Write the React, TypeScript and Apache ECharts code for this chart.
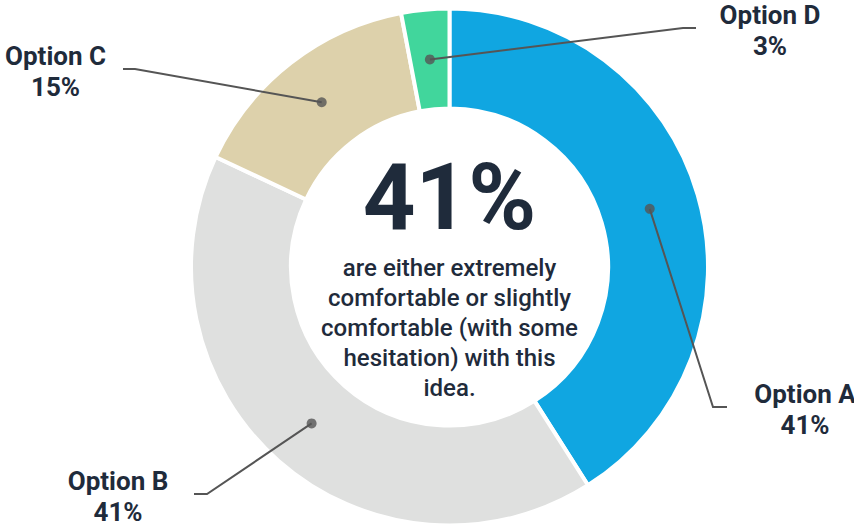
import React, { useEffect, useRef } from "react";
import * as echarts from "echarts";

const categories = ["Option A", "Option B", "Option C", "Option D"];
const values = [41, 41, 15, 3];
const centerValue = "41%";
const centerNote = "are either extremely\ncomfortable or slightly\ncomfortable (with some\nhesitation) with this\nidea.";

const PALETTE = ["#10A6E1", "#DFE0DF", "#DDD1AB", "#41D69C"];
const TEXT = "#1F2B3B";
const LINE = "#555555";
const CX = 449.5;
const CY = 267;
const BORDER = 4;
const OUTER = 256.5;
const INNER = 160.5;
const MID = (OUTER + INNER) / 2;

// label layout (positions of label blocks and line elbows)
const LABEL_LAYOUT = [
  { x: 805, y: 409, elbow: [713, 407], end: [727, 407] },
  { x: 118, y: 496, elbow: [207, 494], end: [194, 494] },
  { x: 55.5, y: 71.5, elbow: [135, 69], end: [123, 69] },
  { x: 770, y: 30.5, elbow: [683, 28], end: [696, 28] },
];

export default function App() {
  const ref = useRef<HTMLDivElement>(null);
  useEffect(() => {
    document.body.style.margin = "0";
    if (!ref.current) return;
    const chart = echarts.init(ref.current, null, { renderer: "svg" });
    const total = values.reduce((a, b) => a + b, 0);
    const mids: number[] = [];
    let cum = 0;
    values.forEach((v) => {
      mids.push(cum + v / 2);
      cum += v;
    });
    const data = categories.map((name, i) => ({ name, value: values[i] }));
    chart.setOption({
      animation: false,
      polar: { center: [CX, CY], radius: OUTER },
      angleAxis: {
        type: "value",
        min: 0,
        max: total,
        startAngle: 90,
        clockwise: true,
        show: false,
      },
      radiusAxis: { type: "value", min: 0, max: OUTER, show: false },
      graphic: [
        {
          type: "text",
          x: CX,
          y: 197,
          style: {
            text: centerValue,
            align: "center",
            verticalAlign: "middle",
            fontFamily: "Roboto",
            fontWeight: "bold",
            fontSize: 92,
            fill: TEXT,
          },
          z: 10,
        },
        {
          type: "text",
          x: CX,
          y: 328,
          style: {
            text: centerNote,
            align: "center",
            verticalAlign: "middle",
            fontFamily: "Roboto",
            fontWeight: 500,
            fontSize: 24,
            lineHeight: 30,
            fill: TEXT,
          },
          z: 10,
        },
      ],
      series: [
        {
          type: "pie",
          z: 1,
          center: [CX, CY],
          radius: [INNER - BORDER / 2, OUTER + BORDER / 2],
          startAngle: 90,
          clockwise: true,
          silent: true,
          label: { show: false },
          labelLine: { show: false },
          itemStyle: {
            borderColor: "#ffffff",
            borderWidth: BORDER,
            color: (p: any) => PALETTE[p.dataIndex],
          },
          data,
        },
        {
          type: "pie",
          z: 4,
          center: [CX, CY],
          radius: [0, MID],
          startAngle: 90,
          clockwise: true,
          silent: true,
          avoidLabelOverlap: false,
          itemStyle: { color: "rgba(0,0,0,0)", borderWidth: 0 },
          label: {
            show: true,
            position: "outside",
            formatter: "{n|{b}}\n{p|{c}%}",
            rich: {
              n: {
                fontFamily: "Roboto",
                fontWeight: "bold",
                fontSize: 26,
                lineHeight: 31,
                color: TEXT,
                align: "center",
              },
              p: {
                fontFamily: "Roboto",
                fontWeight: "bold",
                fontSize: 26,
                lineHeight: 31,
                color: TEXT,
                align: "center",
              },
            },
          },
          labelLine: {
            show: true,
            smooth: false,
            lineStyle: { color: LINE, width: 2 },
          },
          labelLayout: (params: any) => {
            const i = params.dataIndex;
            const L = LABEL_LAYOUT[i];
            const ang = ((90 - (mids[i] / total) * 360) * Math.PI) / 180;
            const start =
              params.labelLinePoints && params.labelLinePoints[0]
                ? params.labelLinePoints[0]
                : [CX + MID * Math.cos(ang), CY - MID * Math.sin(ang)];
            return {
              x: L.x,
              y: L.y,
              align: "center",
              verticalAlign: "middle",
              labelLinePoints: [start, L.elbow, L.end],
            };
          },
          data,
        },
        {
          type: "scatter",
          coordinateSystem: "polar",
          silent: true,
          symbol: "circle",
          symbolSize: 10,
          itemStyle: { color: LINE },
          data: mids.map((m) => [MID, m]),
          z: 6,
        },
      ],
    });
    return () => chart.dispose();
  }, []);
  return <div ref={ref} style={{ width: 854, height: 525 }} />;
}
